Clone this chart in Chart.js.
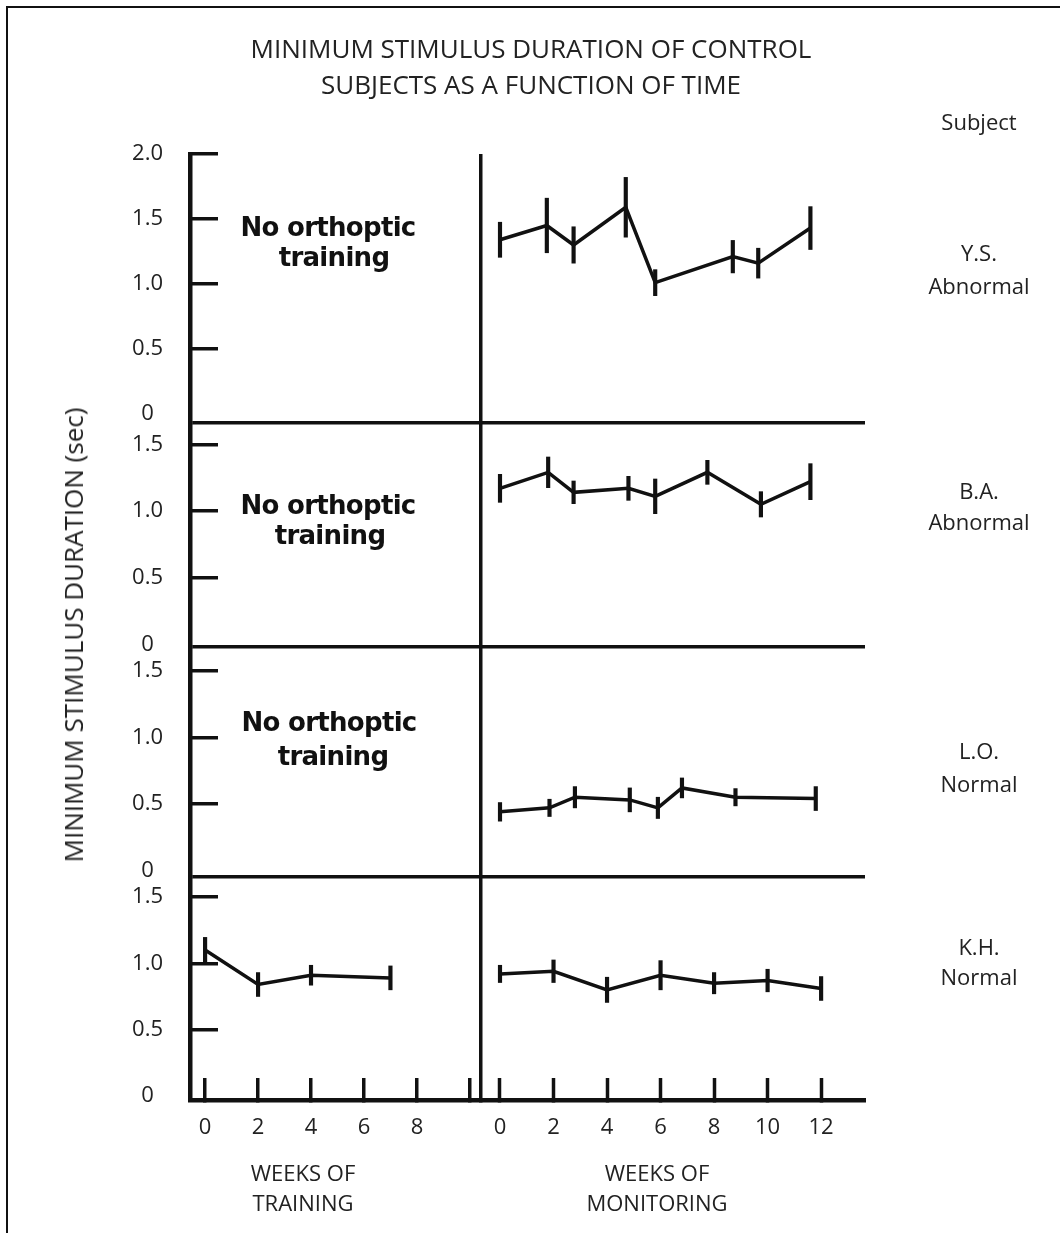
<!DOCTYPE html>
<html>
<head>
<meta charset="utf-8">
<title>Minimum stimulus duration of control subjects</title>
<script src="https://cdn.jsdelivr.net/npm/chart.js@4.4.1/dist/chart.umd.min.js"></script>
<style>
  html, body { margin: 0; padding: 0; background: #fff; }
  #wrap { position: relative; width: 1060px; height: 1233px; overflow: hidden; }
  #frame { position: absolute; left: 6px; top: 6px; width: 1100px; height: 1300px;
           border-left: 2px solid #111; border-top: 2px solid #111; }
  canvas { position: absolute; left: 0; top: 0; }
  .lbl { position: absolute; transform: translate(-50%, -50%); white-space: nowrap;
         font-family: 'Open Sans', sans-serif; color: #222; text-align: center; line-height: 1; }
  .title { font-size: 26px; }
  .side { font-size: 22px; }
  .axt { font-size: 22px; }
  .note { font-family: 'DejaVu Sans', sans-serif; font-weight: bold; font-size: 26px;
          letter-spacing: -0.7px; color: #111; }
  #ytitle { position: absolute; left: 73px; top: 635px; white-space: nowrap;
            transform: translate(-50%, -50%) rotate(-90deg);
            font-family: 'Open Sans', sans-serif; font-size: 26px; color: #222; line-height: 1; }
</style>
</head>
<body>
<div id="wrap">
  <div id="frame"></div>
  <canvas id="chart" width="1060" height="1233"></canvas>
  <div id="ytitle">MINIMUM STIMULUS DURATION (sec)</div>
  <div id="labels"></div>
</div>
<script>
// tick labels
const trainWeekTicks = [0, 2, 4, 6, 8, 10];
const trainWeekLabels = ['0', '2', '4', '6', '8', ''];
const monitorWeekTicks = [0, 2, 4, 6, 8, 10, 12];
const monitorWeekLabels = ['0', '2', '4', '6', '8', '10', '12'];
const topPanelTicks = [0, 0.5, 1.0, 1.5, 2.0];
const panelTicks = [0, 0.5, 1.0, 1.5];

// subjects, top to bottom
const subjects = ['Y.S.', 'B.A.', 'L.O.', 'K.H.'];
const groups = ['Abnormal', 'Abnormal', 'Normal', 'Normal'];

// Y.S. - monitoring only
const ysWeeks = [0, 1.75, 2.75, 4.7, 5.8, 8.7, 9.65, 11.6];
const ysMean = [1.34, 1.45, 1.30, 1.59, 1.01, 1.21, 1.16, 1.43];
const ysErr = [0.135, 0.21, 0.14, 0.23, 0.10, 0.125, 0.115, 0.165];

// B.A. - monitoring only
const baWeeks = [0, 1.8, 2.75, 4.8, 5.8, 7.75, 9.75, 11.6];
const baMean = [1.17, 1.29, 1.14, 1.17, 1.11, 1.29, 1.05, 1.22];
const baErr = [0.105, 0.115, 0.085, 0.09, 0.13, 0.09, 0.095, 0.135];

// L.O. - monitoring only
const loWeeks = [0, 1.85, 2.8, 4.85, 5.9, 6.8, 8.8, 11.8];
const loMean = [0.44, 0.47, 0.55, 0.53, 0.47, 0.62, 0.55, 0.54];
const loErr = [0.07, 0.065, 0.08, 0.09, 0.08, 0.075, 0.065, 0.09];

// K.H. - training and monitoring
const khTrainWeeks = [0, 2, 4, 7];
const khTrainMean = [1.10, 0.84, 0.91, 0.89];
const khTrainErr = [0.095, 0.09, 0.075, 0.09];
const khMonWeeks = [0, 2, 4, 6, 8, 10, 12];
const khMonMean = [0.92, 0.94, 0.80, 0.91, 0.85, 0.87, 0.81];
const khMonErr = [0.065, 0.085, 0.095, 0.11, 0.08, 0.085, 0.09];

const ink = '#111';
const textColor = '#222';
Chart.defaults.font.family = "'Open Sans', sans-serif";

// mean line plus vertical error bars (floating bars) for one series
function series(weeks, mean, err, xAxisID, yAxisID) {
  return [
    {
      type: 'line', xAxisID, yAxisID,
      data: weeks.map((w, i) => ({ x: w, y: mean[i] })),
      borderColor: ink, borderWidth: 3.5, pointRadius: 0, tension: 0, fill: false
    },
    {
      type: 'bar', xAxisID, yAxisID, grouped: false,
      data: weeks.map((w, i) => ({ x: w, y: [mean[i] - err[i], mean[i] + err[i]] })),
      backgroundColor: ink, borderWidth: 0, barThickness: 3.5, maxBarThickness: 3.5
    }
  ];
}

function yAxis(min, max, height, order, ticks) {
  return {
    type: 'linear', position: 'left', stack: 'panels', stackWeight: height, weight: order,
    min: min, max: max, offset: false,
    afterBuildTicks: s => { s.ticks = [min].concat(ticks).map(v => ({ value: v })); },
    afterFit: s => { s.width = 80; },
    ticks: {
      autoSkip: false, crossAlign: 'center', padding: 55, color: textColor, font: { size: 22 },
      callback: v => (v === min ? '' : (v === 0 ? '0' : v.toFixed(1)))
    },
    grid: {
      offset: false, tickLength: -28, tickWidth: 3.5, lineWidth: 3.5,
      color: c => (c.tick && c.tick.value === min ? ink : 'rgba(0,0,0,0)'),
      tickColor: c => (c.tick && c.tick.value > 0 ? ink : 'rgba(0,0,0,0)')
    },
    border: { display: true, color: ink, width: 4.5 }
  };
}

const trainMax = 10.42;

new Chart(document.getElementById('chart'), {
  type: 'line',
  data: {
    datasets: [
      ...series(ysWeeks, ysMean, ysErr, 'xMon', 'y1'),
      ...series(baWeeks, baMean, baErr, 'xMon', 'y2'),
      ...series(loWeeks, loMean, loErr, 'xMon', 'y3'),
      ...series(khTrainWeeks, khTrainMean, khTrainErr, 'xTrain', 'y4'),
      ...series(khMonWeeks, khMonMean, khMonErr, 'xMon', 'y4')
    ]
  },
  options: {
    responsive: false,
    animation: false,
    layout: { padding: { left: 110, right: 195, top: 154, bottom: 73 } },
    plugins: {
      legend: { display: false },
      tooltip: { enabled: false },
      title: { display: false }
    },
    scales: {
      y1: yAxis(-0.07, 2.0, 269, 4, topPanelTicks),
      y2: yAxis(-0.02, 1.66, 224, 3, panelTicks),
      y3: yAxis(-0.05, 1.68, 230, 2, panelTicks),
      y4: yAxis(-0.03, 1.65, 223, 1, panelTicks),
      xTrain: {
        type: 'linear', position: 'bottom', stack: 'weeks', stackWeight: 291, weight: 0,
        min: -0.57, max: trainMax, offset: false,
        afterBuildTicks: s => { s.ticks = trainWeekTicks.concat([trainMax]).map(v => ({ value: v })); },
        afterFit: s => { s.height = 60; },
        ticks: {
          autoSkip: false, maxRotation: 0, padding: 37, color: textColor, font: { size: 22 },
          callback: (v, i) => trainWeekLabels[i] || ''
        },
        grid: {
          offset: false, tickLength: -22, tickWidth: 3.5, lineWidth: 3.5,
          color: c => (c.tick && c.tick.value === trainMax ? ink : 'rgba(0,0,0,0)'),
          tickColor: c => (c.tick && c.tick.value === trainMax ? 'rgba(0,0,0,0)' : ink)
        },
        border: { display: true, color: ink, width: 4.5 }
      },
      xMon: {
        type: 'linear', position: 'bottom', stack: 'weeks', stackWeight: 384, weight: 1,
        min: -0.71, max: 13.64, offset: false,
        afterBuildTicks: s => { s.ticks = monitorWeekTicks.map(v => ({ value: v })); },
        afterFit: s => { s.height = 60; },
        ticks: {
          autoSkip: false, maxRotation: 0, padding: 37, color: textColor, font: { size: 22 },
          callback: (v, i) => monitorWeekLabels[i] || ''
        },
        grid: { offset: false, drawOnChartArea: false, tickLength: -22, tickWidth: 3.5, color: ink },
        border: { display: true, color: ink, width: 4.5 }
      }
    }
  }
});

// text annotations around the plot
const labelSpots = [
  { text: 'MINIMUM STIMULUS DURATION OF CONTROL', x: 531, y: 48, cls: 'title' },
  { text: 'SUBJECTS AS A FUNCTION OF TIME', x: 531, y: 84, cls: 'title' },
  { text: 'Subject', x: 979, y: 121, cls: 'side' },
  { text: subjects[0], x: 979, y: 252, cls: 'side' },
  { text: groups[0], x: 979, y: 285, cls: 'side' },
  { text: subjects[1], x: 979, y: 490, cls: 'side' },
  { text: groups[1], x: 979, y: 521, cls: 'side' },
  { text: subjects[2], x: 979, y: 750, cls: 'side' },
  { text: groups[2], x: 979, y: 783, cls: 'side' },
  { text: subjects[3], x: 979, y: 946, cls: 'side' },
  { text: groups[3], x: 979, y: 976, cls: 'side' },
  { text: 'No orthoptic', x: 328, y: 227, cls: 'note' },
  { text: 'training', x: 334, y: 257, cls: 'note' },
  { text: 'No orthoptic', x: 328, y: 505, cls: 'note' },
  { text: 'training', x: 330, y: 535, cls: 'note' },
  { text: 'No orthoptic', x: 329, y: 722, cls: 'note' },
  { text: 'training', x: 333, y: 756, cls: 'note' },
  { text: 'WEEKS OF', x: 303, y: 1172, cls: 'axt' },
  { text: 'TRAINING', x: 303, y: 1202, cls: 'axt' },
  { text: 'WEEKS OF', x: 657, y: 1172, cls: 'axt' },
  { text: 'MONITORING', x: 657, y: 1202, cls: 'axt' }
];
const holder = document.getElementById('labels');
labelSpots.forEach(l => {
  const d = document.createElement('div');
  d.className = 'lbl ' + l.cls;
  d.style.left = l.x + 'px';
  d.style.top = l.y + 'px';
  d.textContent = l.text;
  holder.appendChild(d);
});
</script>
</body>
</html>
